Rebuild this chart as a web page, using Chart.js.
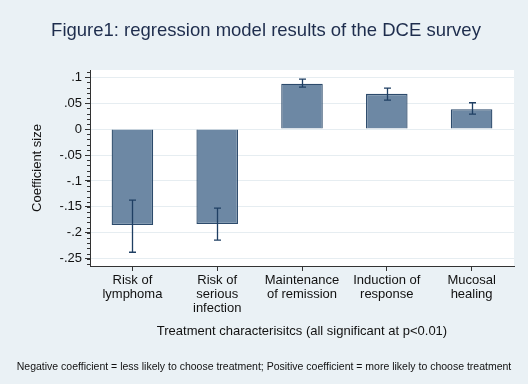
<!DOCTYPE html>
<html>
<head>
<meta charset="utf-8">
<script src="https://cdn.jsdelivr.net/npm/chart.js@4.4.0/dist/chart.umd.min.js"></script>
<style>
  html, body { margin: 0; padding: 0; background: #eaf1f5; }
  #wrap { width: 528px; height: 384px; }
</style>
</head>
<body>
<div id="wrap"><canvas id="c" width="528" height="384"></canvas></div>
<script>
const categories = [
  ["Risk of", "lymphoma"],
  ["Risk of", "serious", "infection"],
  ["Maintenance", "of remission"],
  ["Induction of", "response"],
  ["Mucosal", "healing"]
];
const coefficients = [-0.185, -0.183, 0.0875, 0.068, 0.0385];
const ciLow  = [-0.2375, -0.214, 0.081, 0.056, 0.029];
const ciHigh = [-0.137, -0.1525, 0.0965, 0.079, 0.0508];
const yMin = -0.264, yMax = 0.114, yStep = 0.05, yMinorStep = 0.01;

const titleText = "Figure1: regression model results of the DCE survey";
const yTitle = "Coefficient size";
const xTitle = "Treatment characterisitcs (all significant at p<0.01)";
const noteText = "Negative coefficient = less likely to choose treatment; Positive coefficient = more likely to choose treatment";

const FONT = "'Liberation Sans', Arial, sans-serif";

const decorPlugin = {
  id: 'decor',
  beforeDraw(chart) {
    const ctx = chart.ctx, a = chart.chartArea;
    ctx.save();
    ctx.fillStyle = '#eaf1f5';
    ctx.fillRect(0, 0, chart.width, chart.height);
    ctx.fillStyle = '#ffffff';
    ctx.fillRect(a.left, a.top, a.right - a.left, a.bottom - a.top);
    ctx.restore();
  },
  afterDraw(chart) {
    const ctx = chart.ctx, a = chart.chartArea;
    const xs = chart.scales.x, ys = chart.scales.y;
    ctx.save();
    // minor ticks on y axis
    ctx.strokeStyle = '#333333';
    ctx.lineWidth = 1;
    for (let v = Math.ceil(yMin / yMinorStep) * yMinorStep; v <= yMax + 1e-9; v += yMinorStep) {
      const py = Math.round(ys.getPixelForValue(v)) + 0.5;
      ctx.beginPath();
      ctx.moveTo(a.left - 3, py);
      ctx.lineTo(a.left, py);
      ctx.stroke();
    }
    // error bars
    ctx.strokeStyle = '#1f3f63';
    ctx.lineWidth = 1.3;
    for (let i = 0; i < coefficients.length; i++) {
      const px = Math.round(xs.getPixelForValue(i)) + 0.5;
      const lo = ys.getPixelForValue(ciLow[i]);
      const hi = ys.getPixelForValue(ciHigh[i]);
      ctx.beginPath();
      ctx.moveTo(px, lo); ctx.lineTo(px, hi);
      ctx.moveTo(px - 3.5, lo); ctx.lineTo(px + 3.5, lo);
      ctx.moveTo(px - 3.5, hi); ctx.lineTo(px + 3.5, hi);
      ctx.stroke();
    }
    // texts
    ctx.textAlign = 'center';
    ctx.textBaseline = 'middle';
    ctx.fillStyle = '#1e2d4d';
    ctx.font = "18.5px " + FONT;
    ctx.fillText(titleText, 266, 31);
    ctx.fillStyle = '#111111';
    ctx.font = "13px " + FONT;
    ctx.fillText(xTitle, (a.left + a.right) / 2, 331);
    ctx.font = "10.5px " + FONT;
    ctx.fillText(noteText, 264, 367);
    ctx.save();
    ctx.translate(37, (a.top + a.bottom) / 2);
    ctx.rotate(-Math.PI / 2);
    ctx.font = "13px " + FONT;
    ctx.fillText(yTitle, 0, 0);
    ctx.restore();
    ctx.restore();
  }
};

new Chart(document.getElementById('c'), {
  type: 'bar',
  data: {
    labels: categories,
    datasets: [{
      data: coefficients,
      backgroundColor: '#6d88a4',
      borderColor: '#2c4a6b',
      borderWidth: 1.3,
      barPercentage: 0.49,
      categoryPercentage: 1.0
    }]
  },
  options: {
    responsive: false,
    animation: false,
    layout: { padding: { top: 70, right: 14, bottom: 0, left: 0 } },
    plugins: { legend: { display: false }, tooltip: { enabled: false }, title: { display: false } },
    scales: {
      x: {
        offset: true,
        afterFit(s) { s.height = 118; },
        grid: { display: true, offset: false, drawOnChartArea: false, drawTicks: true, tickLength: 5, tickColor: '#333333' },
        border: { display: true, color: '#333333', width: 1 },
        ticks: { color: '#111111', font: { family: FONT, size: 13, lineHeight: 1.05 }, padding: 3, maxRotation: 0, autoSkip: false }
      },
      y: {
        min: yMin, max: yMax,
        afterFit(s) { s.width = 90; },
        grid: { color: '#e6edf1', lineWidth: 1, tickLength: 5, tickColor: '#333333', drawTicks: true },
        border: { display: true, color: '#333333', width: 1 },
        ticks: {
          stepSize: yStep,
          includeBounds: false,
          color: '#111111',
          padding: 3,
          font: { family: FONT, size: 13 },
          callback(v) {
            const r = Math.round(v * 100) / 100;
            if (r === 0) return '0';
            return String(r).replace('0.', '.');
          }
        }
      }
    }
  },
  plugins: [decorPlugin]
});
</script>
</body>
</html>
